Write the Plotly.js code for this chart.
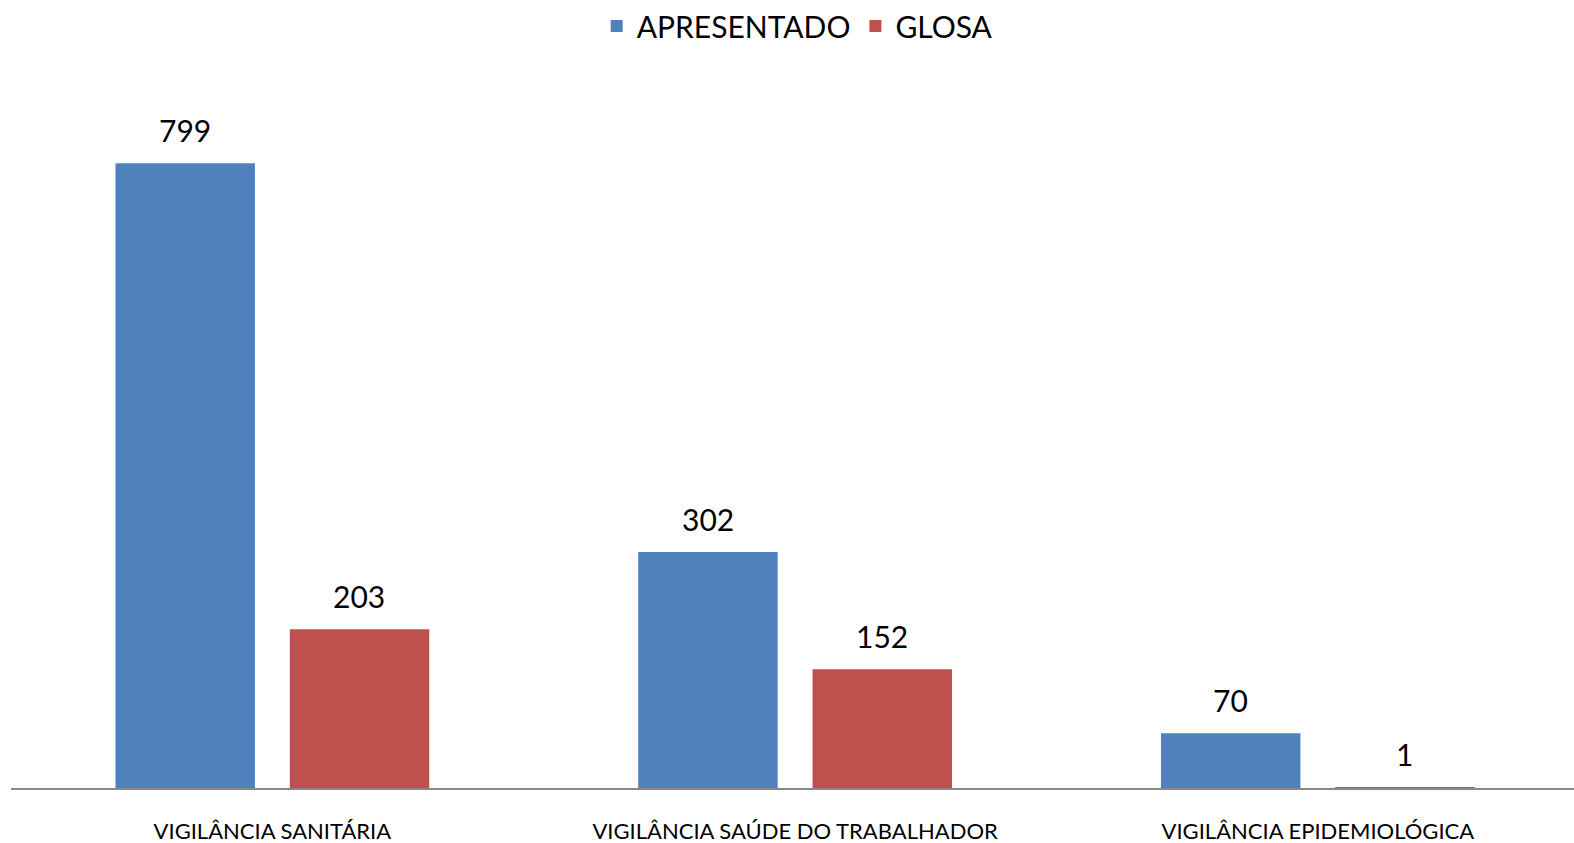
<!DOCTYPE html>
<html>
<head>
<meta charset="utf-8">
<script src="https://cdn.plot.ly/plotly-3.0.1.min.js"></script>
<style>
  html, body { margin: 0; padding: 0; background: #fff; }
  #chart { width: 1574px; height: 843px; }
</style>
</head>
<body>
<div id="chart"></div>
<script>
// categorias e valores
var categorias = ['VIGILÂNCIA SANITÁRIA', 'VIGILÂNCIA SAÚDE DO TRABALHADOR', 'VIGILÂNCIA EPIDEMIOLÓGICA'];
var apresentado = [799, 302, 70];
var glosa = [203, 152, 1];

var FONTE = 'Lato, "Open Sans", sans-serif';

var traces = [
  {
    name: 'APRESENTADO',
    type: 'bar',
    x: categorias,
    y: apresentado,
    marker: { color: '#4F81BD' },
    hoverinfo: 'x+y'
  },
  {
    name: 'GLOSA',
    type: 'bar',
    x: categorias,
    y: glosa,
    marker: { color: '#C0504D' },
    hoverinfo: 'x+y'
  }
];

// rotulos de dados acima das barras
var rotulos = [];
[[apresentado, -87], [glosa, 87]].forEach(function (s) {
  s[0].forEach(function (v, i) {
    rotulos.push({
      x: categorias[i], y: v, text: String(v),
      xref: 'x', yref: 'y', showarrow: false,
      xshift: s[1], yshift: 13, yanchor: 'bottom',
      font: { family: FONTE, size: 30, color: '#000' }
    });
  });
});

var layout = {
  width: 1574,
  height: 843,
  margin: { l: 11, r: 0, t: 52, b: 55 },
  paper_bgcolor: '#fff',
  plot_bgcolor: '#fff',
  font: { family: FONTE, color: '#000' },
  barmode: 'group',
  bargap: 0.333,
  bargroupgap: 0.2,
  showlegend: true,
  legend: {
    orientation: 'h',
    x: 0.503, xanchor: 'center',
    y: 1.078, yanchor: 'top',
    font: { size: 30, family: FONTE },
    itemwidth: 30
  },
  xaxis: {
    type: 'category',
    range: [-0.5, 2.49],
    showline: true,
    linecolor: '#888',
    linewidth: 2,
    showgrid: false,
    ticks: 'outside',
    ticklen: 23,
    tickcolor: 'rgba(0,0,0,0)',
    tickfont: { size: 22, family: FONTE }
  },
  yaxis: {
    range: [0, 935],
    visible: false,
    showgrid: false,
    zeroline: false
  },
  annotations: rotulos
};

Plotly.newPlot('chart', traces, layout, { displayModeBar: false });
</script>
</body>
</html>
